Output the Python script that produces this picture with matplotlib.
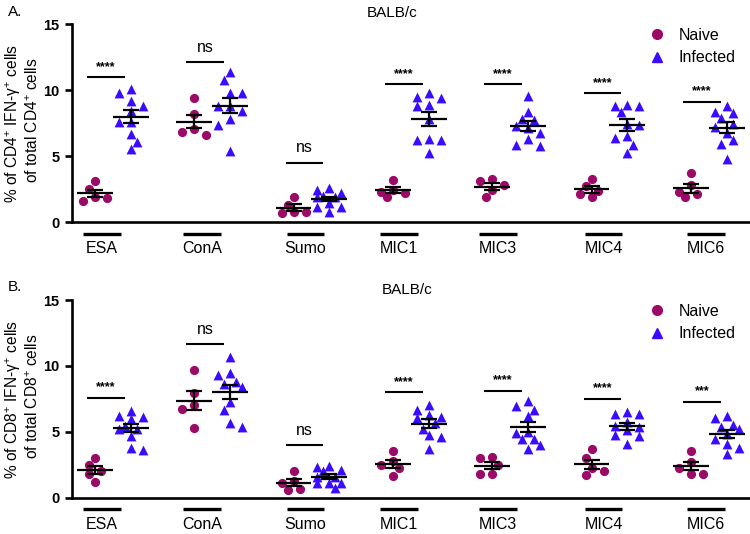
import numpy as np
import matplotlib
matplotlib.use('Agg')
import matplotlib.pyplot as plt
from matplotlib.lines import Line2D
from matplotlib import transforms

plt.rcParams['font.family'] = ['Liberation Sans', 'DejaVu Sans']
plt.rcParams['mathtext.fontset'] = 'custom'
plt.rcParams['mathtext.rm'] = 'Liberation Sans'
plt.rcParams['mathtext.it'] = 'Liberation Sans:italic'
plt.rcParams['mathtext.bf'] = 'Liberation Sans:bold'

# DATA
groups = ['ESA', 'ConA', 'Sumo', 'MIC1', 'MIC3', 'MIC4', 'MIC6']

# A. CD4+ IFN-g+ cells (% of total CD4+)
cd4_naive = [
    [3.1, 2.5, 1.9, 1.8, 1.6],
    [9.37, 8.18, 7.07, 6.84, 6.57],
    [1.92, 1.31, 0.78, 0.78, 0.66],
    [3.18, 2.42, 2.3, 2.22, 1.9],
    [3.23, 3.13, 2.78, 2.42, 1.87],
    [3.28, 2.73, 2.35, 2.1, 1.87],
    [3.69, 2.78, 2.3, 2.1, 1.89],
]
cd4_infected = [
    [10.1, 9.75, 9.17, 8.8, 8.4, 7.55, 7.55, 6.67, 6.08, 5.53],
    [11.39, 10.76, 9.75, 9.75, 8.81, 8.81, 8.4, 7.8, 7.35, 5.4],
    [2.55, 2.42, 2.17, 1.97, 1.87, 1.9, 1.42, 1.16, 1.16, 0.78],
    [9.75, 9.5, 9.37, 8.79, 8.86, 7.78, 6.26, 6.2, 6.2, 5.25],
    [9.57, 8.36, 7.8, 7.73, 7.27, 7.15, 6.77, 6.26, 5.83, 5.76],
    [8.9, 8.8, 8.8, 8.3, 7.4, 7.35, 6.5, 6.35, 5.85, 5.25],
    [8.79, 8.36, 8.28, 7.85, 7.4, 7.17, 6.77, 6.2, 5.88, 4.77],
]
cd4_sig = ['****', 'ns', 'ns', '****', '****', '****', '****']
cd4_sig_y = [10.96, 12.1, 4.5, 10.43, 10.43, 9.75, 9.07]

# B. CD8+ IFN-g+ cells (% of total CD8+)
cd8_naive = [
    [3.02, 2.5, 2.03, 1.78, 1.2],
    [9.71, 7.97, 7.0, 6.75, 5.29],
    [2.03, 1.25, 1.12, 0.62, 0.57],
    [3.55, 2.77, 2.5, 2.26, 1.63],
    [3.09, 2.97, 2.5, 1.78, 1.78],
    [3.65, 3.02, 2.21, 2.03, 1.7],
    [3.52, 2.71, 2.21, 1.78, 1.78],
]
cd8_infected = [
    [6.55, 6.17, 6.1, 6.0, 5.42, 5.24, 5.24, 4.66, 3.77, 3.6],
    [10.67, 9.45, 9.28, 8.77, 8.65, 8.4, 7.26, 6.63, 5.67, 5.36],
    [2.41, 2.29, 2.08, 2.03, 1.58, 1.58, 1.12, 1.07, 1.07, 0.7],
    [7.0, 6.68, 6.25, 6.12, 6.07, 5.67, 5.24, 4.73, 4.6, 3.65],
    [7.31, 6.95, 6.68, 6.17, 4.99, 4.91, 4.48, 4.41, 3.98, 3.67],
    [6.48, 6.33, 6.33, 5.7, 5.42, 5.36, 5.11, 4.73, 4.66, 4.05],
    [6.17, 6.05, 5.49, 5.32, 5.17, 4.86, 4.41, 4.05, 3.77, 3.3],
]
cd8_sig = ['****', 'ns', 'ns', '****', '****', '****', '***']
cd8_sig_y = [7.56, 11.63, 3.98, 7.99, 8.07, 7.51, 7.26]

# LAYOUT
naive_col = '#9B0A66'
inf_col = '#3A0BFF'
inf_shift = 0.36
label_pos = [0.07, 1.08, 2.12, 3.06, 4.06, 5.12, 6.15]
xlim = (-0.231, 6.595)
W, H = 750, 534

fig = plt.figure(figsize=(7.5, 5.34), dpi=100)
ax_top = fig.add_axes([72 / W, 1 - 222 / H, 678 / W, 198 / H])
ax_bot = fig.add_axes([72 / W, 1 - 497.5 / H, 678 / W, 197.5 / H])

xpx = 678 / (xlim[1] - xlim[0])
ypx = 198 / 15.0


def swarm(vals, diam=9.0, step=6.0):
    # column-scatter layout in pixel space, max 2 steps each side, alternating sides
    vals = np.asarray(vals, dtype=float)
    order = np.argsort(-vals, kind='stable')
    placed = []
    offs = np.zeros(len(vals))
    side = -1
    for k in order:
        y = vals[k] * ypx
        best, best_d = 0.0, -1.0
        for c in [0, side, -side, 2 * side, -2 * side]:
            x = c * step
            d = min([np.hypot(x - px, y - py) for px, py in placed] or [99.0])
            if d >= diam:
                best = x
                break
            if d > best_d:
                best, best_d = x, d
        if best != 0:
            side = -int(np.sign(best))
        placed.append((best, y))
        offs[k] = best / xpx
    return offs


def mean_sem(ax, x, vals):
    vals = np.asarray(vals)
    m = vals.mean()
    sem = vals.std(ddof=1) / np.sqrt(len(vals))
    ax.plot([x - 0.18, x + 0.18], [m, m], color='black', lw=1.6, zorder=4, solid_capstyle='butt')
    ax.errorbar([x], [m], yerr=[sem], fmt='none', ecolor='black', elinewidth=1.6,
                capsize=5.8, capthick=1.6, zorder=4)


def draw_panel(ax, naive, infected, sig, sig_y):
    for i in range(len(groups)):
        xn = i + swarm(naive[i])
        ax.scatter(xn, naive[i], s=44, marker='o', color=naive_col, linewidths=0, zorder=3)
        xi = i + inf_shift + swarm(infected[i])
        ax.scatter(xi, infected[i], s=50, marker='^', color=inf_col, linewidths=0, zorder=3)
        mean_sem(ax, i, naive[i])
        mean_sem(ax, i + inf_shift, infected[i])
        # significance bar
        ax.plot([i - 0.08, i + 0.30], [sig_y[i], sig_y[i]], color='black', lw=1.5, solid_capstyle='butt')
        if sig[i] == 'ns':
            ax.text(i + 0.11, sig_y[i] + 0.55, 'ns', ha='center', va='bottom', fontsize=11.5)
        else:
            ax.text(i + 0.11, sig_y[i] + 0.35, sig[i], ha='center', va='bottom', fontsize=9, fontweight='bold')
    # group labels with underline below the axis
    trans = transforms.blended_transform_factory(ax.transData, ax.transAxes)
    for i, g in enumerate(groups):
        ax.plot([label_pos[i] - 0.19, label_pos[i] + 0.19], [-0.06, -0.06], transform=trans,
                color='black', lw=2.4, clip_on=False, solid_capstyle='butt')
        ax.text(label_pos[i], -0.135, g, transform=trans, ha='center', va='center', fontsize=11.5)

    ax.set_xlim(*xlim)
    ax.set_ylim(0, 15)
    ax.set_yticks([0, 5, 10, 15])
    ax.set_xticks([])
    for s in ['top', 'right']:
        ax.spines[s].set_visible(False)
    for s in ['left', 'bottom']:
        ax.spines[s].set_linewidth(1.9)
    ax.tick_params(axis='y', direction='out', length=5, width=1.9, labelsize=10.5, pad=4)
    for lab in ax.get_yticklabels():
        lab.set_fontweight('bold')
    ax.patch.set_alpha(0)

    handles = [Line2D([], [], marker='o', color=naive_col, ls='none', markersize=7),
               Line2D([], [], marker='^', color=inf_col, ls='none', markersize=7)]
    return handles


h = draw_panel(ax_top, cd4_naive, cd4_infected, cd4_sig, cd4_sig_y)
draw_panel(ax_bot, cd8_naive, cd8_infected, cd8_sig, cd8_sig_y)

for ax, ytop in [(ax_top, 28), (ax_bot, 304)]:
    ax.legend(h, ['Naive', 'Infected'], loc='upper left', bbox_to_anchor=(649 / W, 1 - ytop / H),
              bbox_transform=fig.transFigure, frameon=False, fontsize=11.5, handlelength=1.0,
              handletextpad=0.85, labelspacing=0.45, borderpad=0, borderaxespad=0)

# panel letters, titles and y labels
fig.text(8 / W, 1 - 12 / H, 'A.', fontsize=11, ha='left', va='center')
fig.text(8 / W, 1 - 287 / H, 'B.', fontsize=11, ha='left', va='center')
fig.text(392 / W, 1 - 13 / H, 'BALB/c', fontsize=11, ha='center', va='center')
fig.text(407 / W, 1 - 290 / H, 'BALB/c', fontsize=11, ha='center', va='center')

fig.text(13 / W, 1 - 123 / H, r'% of CD4$^{+}$ IFN-γ$^{+}$ cells', rotation=90, fontsize=11.2,
         ha='center', va='center')
fig.text(33 / W, 1 - 120 / H, r'of total CD4$^{+}$ cells', rotation=90, fontsize=11.2,
         ha='center', va='center')
fig.text(13 / W, 1 - 399 / H, r'% of CD8$^{+}$ IFN-γ$^{+}$ cells', rotation=90, fontsize=11.2,
         ha='center', va='center')
fig.text(33 / W, 1 - 396 / H, r'of total CD8$^{+}$ cells', rotation=90, fontsize=11.2,
         ha='center', va='center')

fig.savefig('out.png', dpi=100)
